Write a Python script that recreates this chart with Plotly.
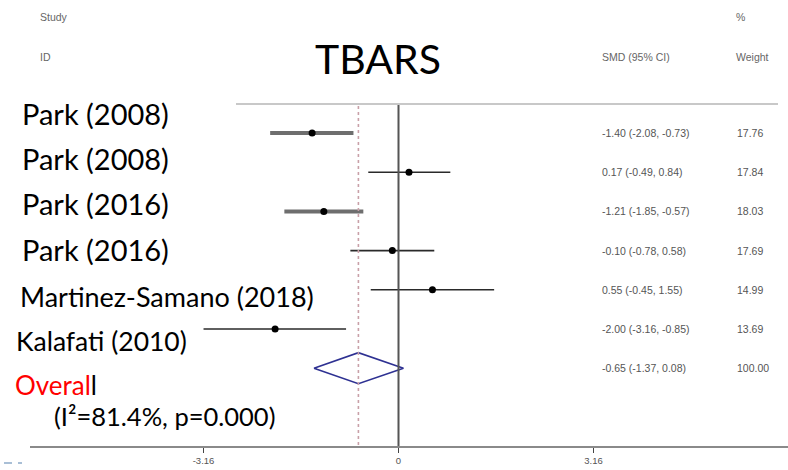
import plotly.graph_objects as go

# ---------------- data ----------------
studies = ["Park (2008)", "Park (2008)", "Park (2016)", "Park (2016)",
           "Martinez-Samano (2018)", "Kalafati (2010)"]
smd = [-1.40, 0.17, -1.21, -0.10, 0.55, -2.00]
ci_low = [-2.08, -0.49, -1.85, -0.78, -0.45, -3.16]
ci_high = [-0.73, 0.84, -0.57, 0.58, 1.55, -0.85]
smd_text = ["-1.40 (-2.08, -0.73)", "0.17 (-0.49, 0.84)", "-1.21 (-1.85, -0.57)",
            "-0.10 (-0.78, 0.58)", "0.55 (-0.45, 1.55)", "-2.00 (-3.16, -0.85)"]
weights = ["17.76", "17.84", "18.03", "17.69", "14.99", "13.69"]
overall_smd = -0.65
overall_low = -1.37
overall_high = 0.08
overall_text = "-0.65 (-1.37, 0.08)"
overall_weight = "100.00"
tick_vals = [-3.16, 0, 3.16]
tick_text = ["-3.16", "0", "3.16"]
title_text = "TBARS"
heterogeneity = "(I²=81.4%, p=0.000)"

# ---------------- style / layout helpers ----------------
W, H = 788, 470
BOT = 23
ROW0, ROWH = 133, 39.2          # pixel of row 0, row spacing
def yi(p):                      # pixel -> y-axis units
    return (p - ROW0) / ROWH
Y_TOP = yi(0)
Y_BOT = yi(H - BOT)
ZERO_PX, SCALE = 398.5, 61.7
X_RANGE = [-ZERO_PX / SCALE, (W - ZERO_PX) / SCALE]
thick_rows = [0, 2]
rows = list(range(len(studies)))
overall_row = len(studies)

fig = go.Figure()

# CI lines
for r in rows:
    thick = r in thick_rows
    fig.add_trace(go.Scatter(
        x=[ci_low[r], ci_high[r]], y=[r, r], mode="lines",
        line=dict(color="#6e6e6e" if thick else "#2a2a2a", width=4 if thick else 1.6),
        hoverinfo="skip", showlegend=False))
# point estimates
fig.add_trace(go.Scatter(
    x=smd, y=rows, mode="markers",
    marker=dict(color="#000000", size=7, symbol="circle"),
    showlegend=False))
# overall diamond
dh = 15.5 / ROWH
fig.add_trace(go.Scatter(
    x=[overall_low, overall_smd, overall_high, overall_smd, overall_low],
    y=[overall_row, overall_row - dh, overall_row, overall_row + dh, overall_row],
    mode="lines", line=dict(color="#2e3192", width=1.6),
    hoverinfo="skip", showlegend=False))

shapes = []
# vertical line at 0 (no effect)
shapes.append(dict(type="line", xref="x", yref="y", x0=0, x1=0,
                   y0=yi(104), y1=Y_BOT, line=dict(color="#555555", width=2)))
# overall effect dotted line
shapes.append(dict(type="line", xref="x", yref="y", x0=overall_smd, x1=overall_smd,
                   y0=yi(106), y1=Y_BOT, line=dict(color="#c9a0a8", width=1.6, dash="dot")))
# top rule
shapes.append(dict(type="line", xref="paper", yref="y", x0=236 / W, x1=778 / W,
                   y0=yi(104), y1=yi(104), line=dict(color="#c8c8c8", width=2)))
# axis line
shapes.append(dict(type="line", xref="paper", yref="paper", x0=30 / W, x1=1,
                   y0=0, y1=0, line=dict(color="#8a8a8a", width=2)))
# small blue dashes bottom-left
hp = H - BOT
for xa, xb in [(4, 12), (18, 22)]:
    shapes.append(dict(type="line", xref="paper", yref="paper", x0=xa / W, x1=xb / W,
                       y0=(hp - 463) / hp, y1=(hp - 463) / hp,
                       line=dict(color="#a9bfd6", width=2)))

ann = []
label_pos = [(20, 113, 29), (20, 158, 29), (20, 203, 29), (20, 249, 29),
             (18, 296, 27), (14, 341, 26.5)]
for name, (px, py, fs) in zip(studies, label_pos):
    ann.append(dict(text=name, xref="paper", yref="y", x=px / W, y=yi(py),
                    xanchor="left", yanchor="middle", showarrow=False,
                    font=dict(family="Lato", size=fs, color="#000000")))
ann.append(dict(text="<span style='color:#ff0000'>Overal</span>l", xref="paper", yref="y",
                x=13 / W, y=yi(385), xanchor="left", yanchor="middle",
                showarrow=False, font=dict(family="Lato", size=26, color="#000000")))
ann.append(dict(text=heterogeneity, xref="paper", yref="y", x=52 / W, y=yi(416),
                xanchor="left", yanchor="middle", showarrow=False,
                font=dict(family="Lato", size=25.5, color="#000000")))
# title
ann.append(dict(text=title_text, xref="paper", yref="y", x=378 / W, y=yi(58),
                xanchor="center", yanchor="middle", showarrow=False,
                font=dict(family="Lato", size=41, color="#000000")))
# headers
HDR = dict(family="Liberation Sans", size=10.5, color="#666666")
for t, px, py in [("Study", 38, 17), ("ID", 38, 57), ("SMD (95% CI)", 600, 57),
                  ("%", 734, 17), ("Weight", 734, 57)]:
    ann.append(dict(text=t, xref="paper", yref="y", x=px / W, y=yi(py),
                    xanchor="left", yanchor="middle", showarrow=False, font=HDR))
# right columns
COL = dict(family="Liberation Sans", size=10.5, color="#555555")
for r in rows:
    ann.append(dict(text=smd_text[r], xref="paper", yref="y", x=600 / W, y=r,
                    xanchor="left", yanchor="middle", showarrow=False, font=COL))
    ann.append(dict(text=weights[r], xref="paper", yref="y", x=735 / W, y=r,
                    xanchor="left", yanchor="middle", showarrow=False, font=COL))
ann.append(dict(text=overall_text, xref="paper", yref="y", x=600 / W, y=overall_row,
                xanchor="left", yanchor="middle", showarrow=False, font=COL))
ann.append(dict(text=overall_weight, xref="paper", yref="y", x=735 / W, y=overall_row,
                xanchor="left", yanchor="middle", showarrow=False, font=COL))

fig.update_layout(
    width=W, height=H, margin=dict(l=0, r=0, t=0, b=BOT),
    paper_bgcolor="white", plot_bgcolor="white",
    shapes=shapes, annotations=ann, showlegend=False,
    xaxis=dict(range=X_RANGE, tickvals=tick_vals, ticktext=tick_text,
               ticks="outside", ticklen=5, tickwidth=1, tickcolor="#444444",
               tickfont=dict(family="Liberation Sans", size=9.5, color="#555555"),
               showgrid=False, zeroline=False, showline=False, fixedrange=True),
    yaxis=dict(range=[Y_BOT, Y_TOP], visible=False, showgrid=False,
               zeroline=False, fixedrange=True),
)

fig.write_html("out.html")
